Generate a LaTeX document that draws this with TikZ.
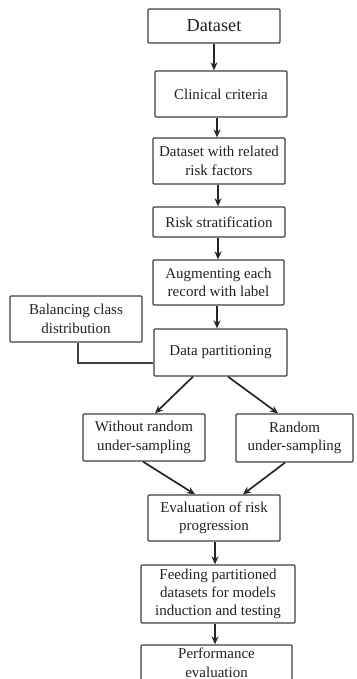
\documentclass[tikz,border=0pt]{standalone}
\usepackage{fontspec}
\setmainfont{Liberation Serif}
\usetikzlibrary{arrows.meta}
\definecolor{boxline}{HTML}{404040}
\definecolor{txt}{HTML}{222222}
\begin{document}
\begin{tikzpicture}[x=1pt,y=-1pt,
  box/.style={draw=boxline, line width=1.3pt, rounded corners=1pt, fill=white,
    align=center, inner sep=1pt, text=txt,
    font=\fontsize{15}{18.3}\selectfont},
  arr/.style={draw=black!85, line width=1.7pt, -{Stealth[length=8pt,width=7pt]}},
  link/.style={draw=boxline, line width=1.3pt}]
\useasboundingbox (0,0) rectangle (356,679);
\clip (0,0) rectangle (356,679);
\node[box, minimum width=132pt, minimum height=34pt, font=\fontsize{18.3}{20}\selectfont] (ds) at (214,26) {Dataset};
\node[box, minimum width=132pt, minimum height=46pt] (cc) at (221,94) {Clinical criteria};
\node[box, minimum width=132pt, minimum height=46pt] (dr) at (219,161) {Dataset with related\\risk factors};
\node[box, minimum width=132pt, minimum height=30pt] (rs) at (219,222) {Risk stratification};
\node[box, minimum width=131pt, minimum height=45pt] (au) at (218.5,282.5) {Augmenting each\\record with label};
\node[box, minimum width=133pt, minimum height=47pt] (dp) at (220.5,352.5) {Data partitioning};
\node[box, minimum width=132pt, minimum height=46pt] (bc) at (76,319) {Balancing class\\distribution};
\node[box, minimum width=122pt, minimum height=47pt] (wo) at (144,437.5) {Without random\\under-sampling};
\node[box, minimum width=117pt, minimum height=48pt] (ra) at (294.5,438) {Random\\under-sampling};
\node[box, minimum width=132pt, minimum height=46pt] (ev) at (214,518) {Evaluation of risk\\progression};
\node[box, minimum width=154pt, minimum height=58pt] (fe) at (218,594) {Feeding partitioned\\datasets for models\\induction and testing};
\node[box, minimum width=151pt, minimum height=48pt] (pe) at (216.5,669) {Performance\\evaluation\\[-6pt]\mbox{}};
\draw[arr] (ds.south) -- (ds.south |- cc.north);
\draw[arr] ([xshift=-4pt]cc.south) -- ([xshift=-4pt]cc.south |- dr.north);
\draw[arr] ([xshift=-1pt]dr.south) -- ([xshift=-1pt]dr.south |- rs.north);
\draw[arr] ([xshift=-1pt]rs.south) -- ([xshift=-1pt]rs.south |- au.north);
\draw[arr] ([xshift=-1.5pt]au.south) -- ([xshift=-1.5pt]au.south |- dp.north);
\draw[link] ([xshift=2pt]bc.south) |- ([yshift=-10.5pt]dp.west);
\draw[arr] ([xshift=-27.5pt]dp.south) -- ([xshift=11pt]wo.north);
\draw[arr] ([xshift=7.5pt]dp.south) -- ([xshift=-16.5pt]ra.north);
\draw[arr] ([xshift=-1pt]wo.south) -- ([xshift=-19pt]ev.north);
\draw[arr] ([xshift=-9.5pt]ra.south) -- ([xshift=29pt]ev.north);
\draw[arr] ([xshift=1pt]ev.south) -- ([xshift=1pt]ev.south |- fe.north);
\draw[arr] ([xshift=-3pt]fe.south) -- ([xshift=-3pt]fe.south |- pe.north);
\end{tikzpicture}
\end{document}
